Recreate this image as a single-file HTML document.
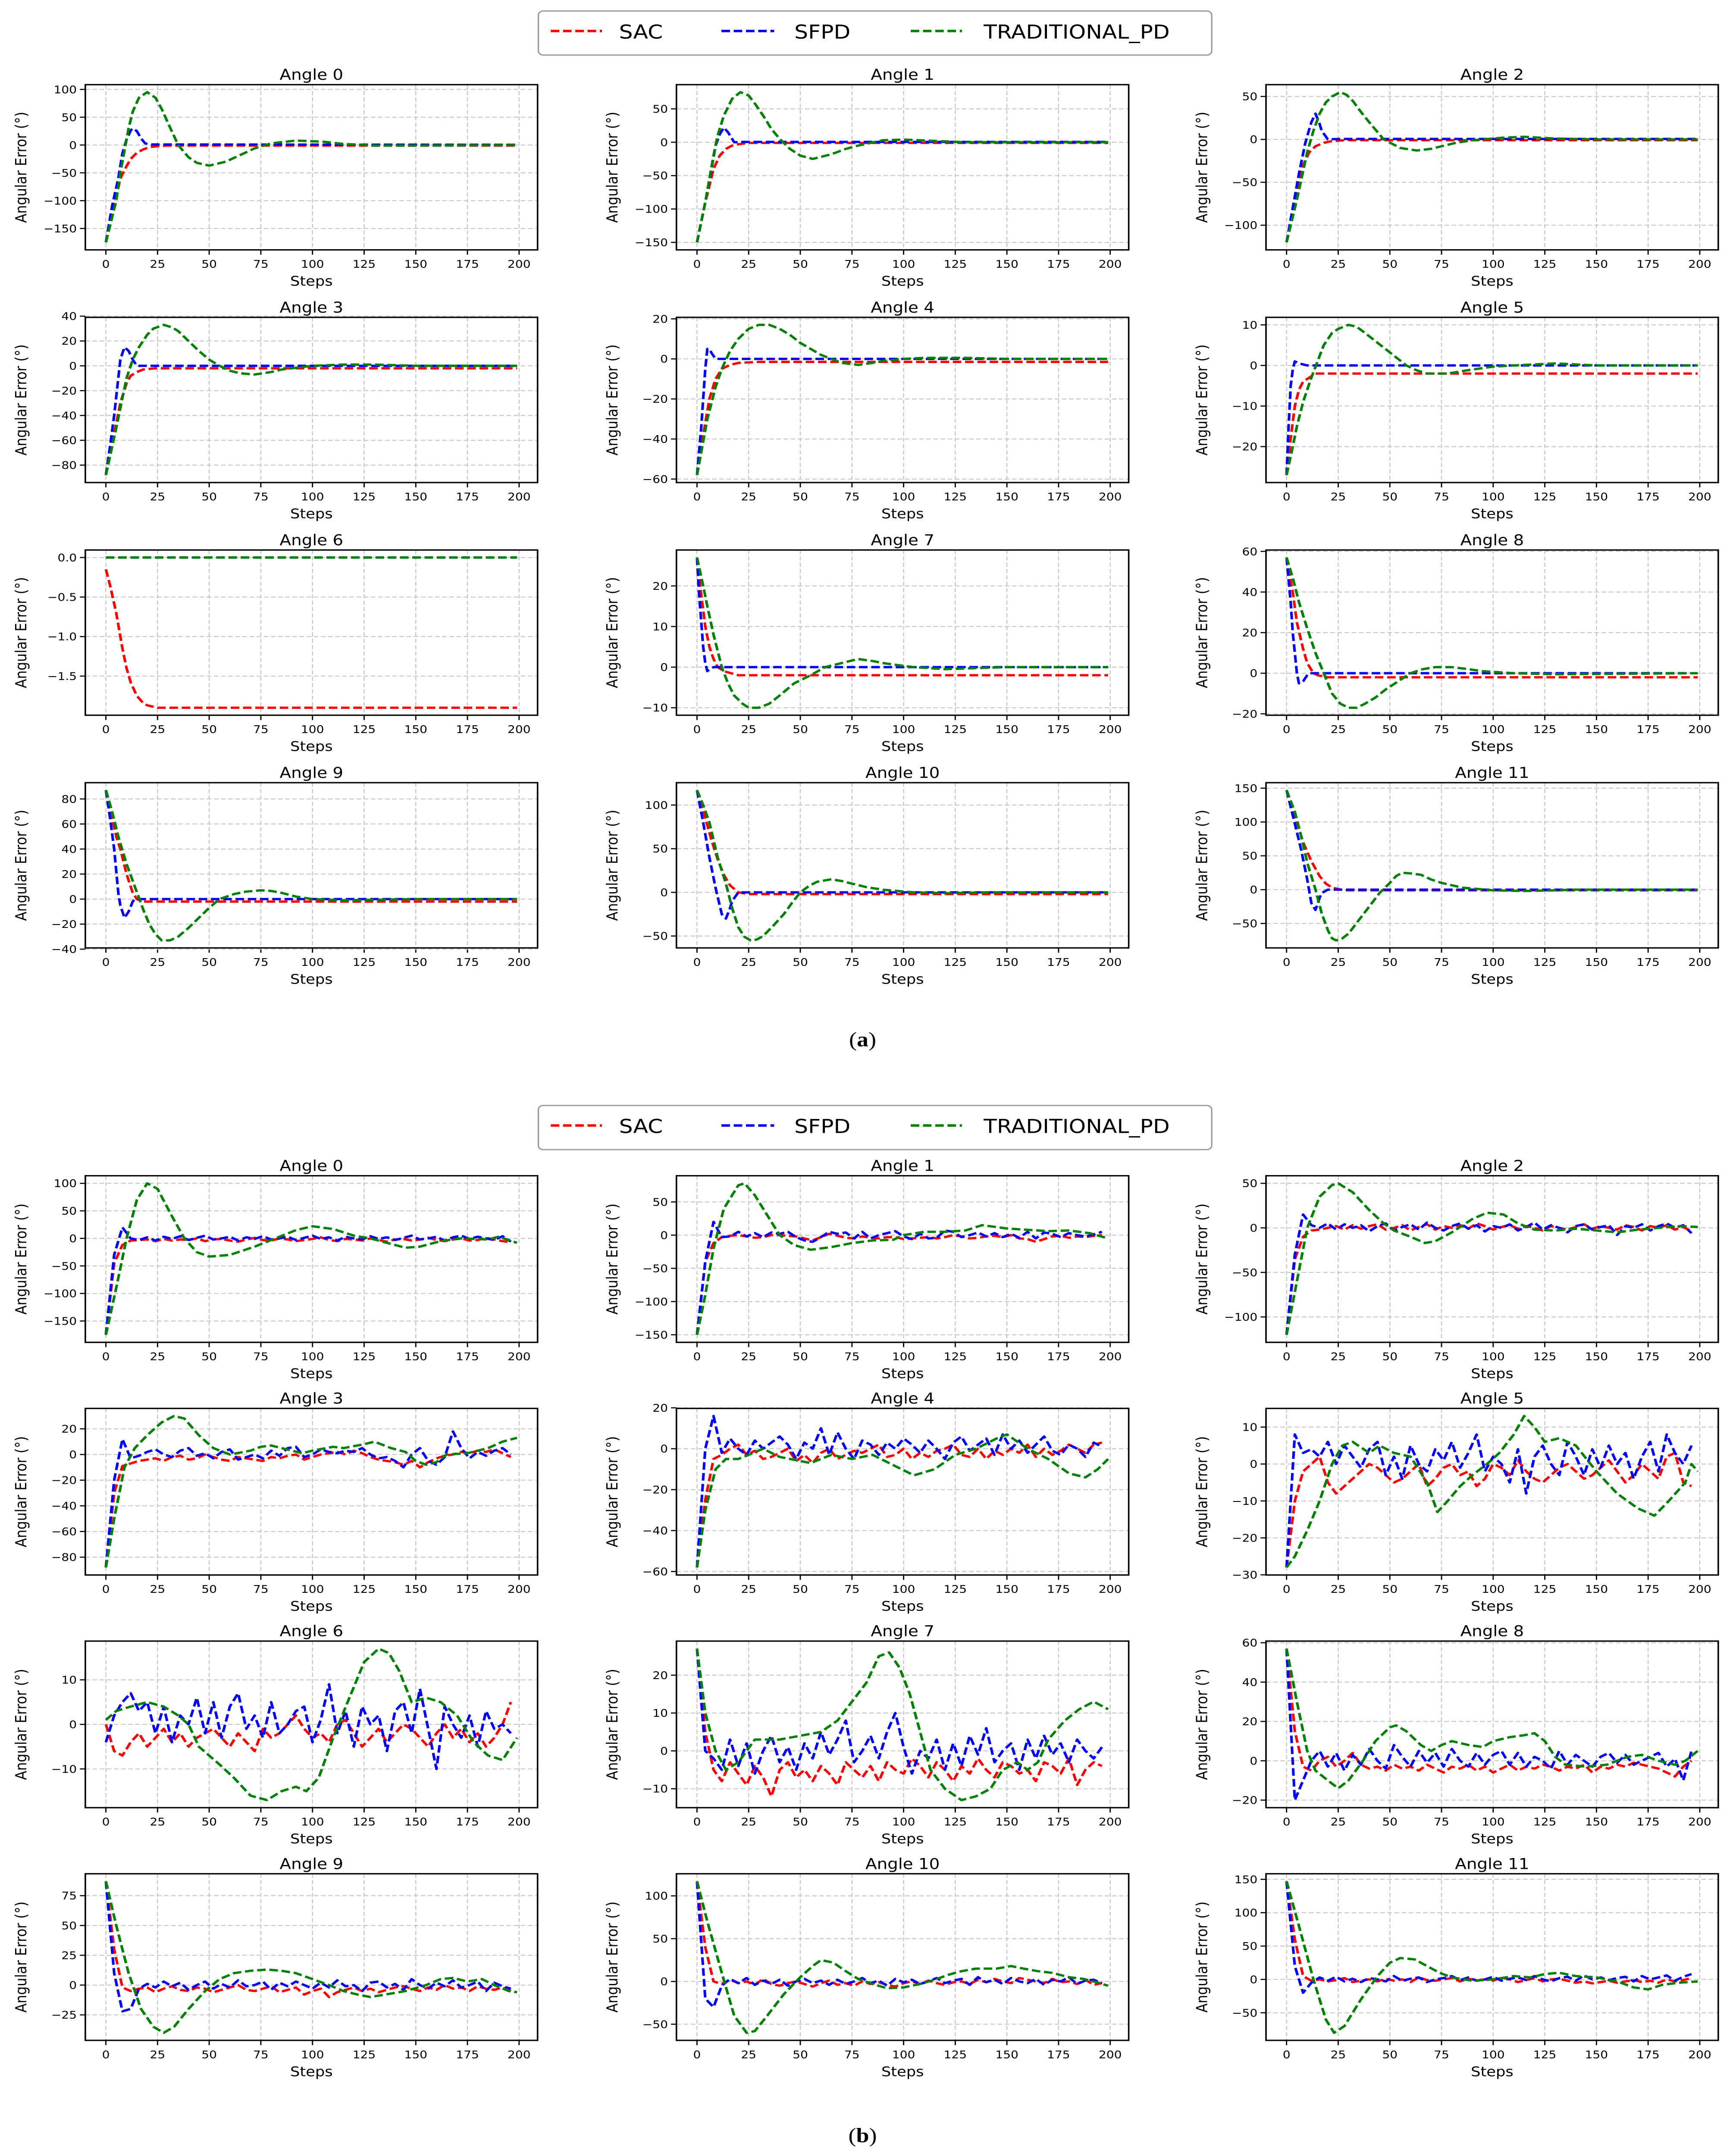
<!DOCTYPE html>
<html><head><meta charset="utf-8"><style>
html,body{margin:0;padding:0;background:#fff;width:100%;height:100%;overflow:hidden;}
svg{display:block;position:fixed;left:0;top:0;width:100vw;height:100vh;font-family:"DejaVu Sans","Liberation Sans",sans-serif;}
</style></head><body>
<svg id="fig" xmlns="http://www.w3.org/2000/svg" viewBox="0 0 1117 1566" preserveAspectRatio="none">
<rect x="0" y="0" width="1117" height="1566" fill="#fff"/>
<g>
<rect x="347" y="8" width="434" height="32" rx="3" fill="#fff" stroke="#999" stroke-width="0.9"/>
<line x1="355" y1="22.5" x2="388" y2="22.5" stroke="#ff0000" stroke-width="1.8" stroke-dasharray="5.5 2.4"/>
<text x="399" y="28" font-size="14">SAC</text>
<line x1="465" y1="22.5" x2="499" y2="22.5" stroke="#0000ff" stroke-width="1.8" stroke-dasharray="5.5 2.4"/>
<text x="512" y="28" font-size="14">SFPD</text>
<line x1="587" y1="22.5" x2="620" y2="22.5" stroke="#008000" stroke-width="1.8" stroke-dasharray="5.5 2.4"/>
<text x="634" y="28" font-size="14">TRADITIONAL_PD</text>
</g>
<g>
<rect x="347" y="803" width="434" height="32" rx="3" fill="#fff" stroke="#999" stroke-width="0.9"/>
<line x1="355" y1="817.5" x2="388" y2="817.5" stroke="#ff0000" stroke-width="1.8" stroke-dasharray="5.5 2.4"/>
<text x="399" y="823" font-size="14">SAC</text>
<line x1="465" y1="817.5" x2="499" y2="817.5" stroke="#0000ff" stroke-width="1.8" stroke-dasharray="5.5 2.4"/>
<text x="512" y="823" font-size="14">SFPD</text>
<line x1="587" y1="817.5" x2="620" y2="817.5" stroke="#008000" stroke-width="1.8" stroke-dasharray="5.5 2.4"/>
<text x="634" y="823" font-size="14">TRADITIONAL_PD</text>
</g>
<text x="556" y="760" font-size="15" text-anchor="middle" font-family="Liberation Serif, serif">(<tspan font-weight="bold">a</tspan>)</text>
<text x="556" y="1556" font-size="15" text-anchor="middle" font-family="Liberation Serif, serif">(<tspan font-weight="bold">b</tspan>)</text>
<g id="plots"></g>
</svg>
<script>
const X_TICKS=[0,25,50,75,100,125,150,175,200];
// ---- (a) smooth series: [step, value] pairs ----
const A0_SAC=[[0,-175],[4,-110],[7,-60],[10,-38],[12,-25],[15,-14],[18,-8],[21,-4],[25,-2],[30,-1],[199,-1]];
const A0_SFPD=[[0,-175],[3,-110],[6,-60],[8,-15],[10,10],[12,26],[13,30],[15,25],[17,12],[19,3],[22,1],[199,0.5]];
const A0_PD=[[0,-175],[3,-130],[5,-100],[7,-50],[9,-10],[11,30],[13,60],[16,85],[20,95],[24,85],[27,65],[30,40],[35,0],[40,-22],[44,-32],[50,-37],[58,-30],[65,-18],[72,-6],[80,3],[92,8],[105,6],[115,2],[130,-1],[150,-1],[199,0]];
const A1_SAC=[[0,-150],[4,-90],[8,-40],[11,-20],[14,-10],[17,-5],[20,-3],[25,-1],[199,-1]];
const A1_SFPD=[[0,-150],[4,-90],[7,-40],[9,-5],[11,12],[13,22],[15,15],[18,0],[22,0.5],[199,0.5]];
const A1_PD=[[0,-150],[4,-90],[8,-20],[10,10],[13,40],[17,65],[21,75],[25,70],[28,58],[32,40],[36,20],[40,5],[45,-10],[50,-20],[56,-25],[65,-18],[72,-10],[78,-5],[90,3],[100,4],[115,2],[130,0],[199,0]];
const A2_SAC=[[0,-120],[4,-70],[8,-30],[11,-15],[14,-8],[18,-4],[22,-2],[28,-1],[199,-1]];
const A2_SFPD=[[0,-120],[3,-80],[6,-40],[9,-5],[11,12],[12,20],[14,30],[16,18],[17,10],[20,0],[25,0.5],[199,0.5]];
const A2_PD=[[0,-120],[5,-70],[10,-15],[13,10],[16,30],[19,43],[22,50],[26,55],[29,52],[32,45],[36,32],[40,20],[47,0],[55,-10],[63,-13],[70,-11],[75,-8],[82,-4],[90,-1],[105,2],[115,3],[130,1],[150,0],[199,0]];
const A3_SAC=[[0,-88],[4,-55],[7,-30],[10,-14],[12,-8],[15,-5],[18,-3],[24,-2],[199,-2]];
const A3_SFPD=[[0,-88],[2,-65],[4,-40],[6,-10],[7,5],[9,15],[11,12],[13,5],[15,0],[199,0]];
const A3_PD=[[0,-88],[5,-50],[10,-10],[13,5],[16,15],[20,25],[23,30],[28,33],[32,31],[35,28],[40,20],[45,12],[50,5],[55,0],[60,-4],[65,-6],[72,-7],[80,-5],[85,-3],[100,0],[115,1],[130,1],[150,0],[199,0]];
const A4_SAC=[[0,-58],[3,-38],[6,-20],[9,-10],[12,-5],[16,-3],[20,-2],[30,-1.5],[199,-1.5]];
const A4_SFPD=[[0,-58],[2,-35],[3,-20],[4,-5],[5,5],[6,5],[7,3],[9,0],[199,0]];
const A4_PD=[[0,-58],[5,-30],[9,-14],[12,-5],[16,4],[20,10],[25,15],[30,17],[35,17],[40,15],[45,12],[50,8],[55,5],[60,2],[65,0],[70,-2],[78,-3],[85,-2],[90,-1],[100,0],[110,0.5],[130,0.5],[150,0],[199,0]];
const A5_SAC=[[0,-27],[2,-18],[4,-10],[6,-6],[8,-4],[11,-3],[14,-2],[199,-2]];
const A5_SFPD=[[0,-27],[1,-15],[2,-5],[3,-1],[4,1],[6,0.5],[10,0],[199,0]];
const A5_PD=[[0,-27],[3,-20],[5,-15],[8,-9],[12,-3],[15,1],[18,5],[22,8],[25,9],[30,10],[34,9.5],[38,8],[43,6],[48,4],[53,2],[58,0],[63,-1.2],[68,-2],[78,-2],[85,-1.4],[90,-1],[100,-0.3],[110,0],[130,0.5],[150,0],[199,0]];
const A6_SAC=[[0,-0.15],[2,-0.35],[5,-0.7],[8,-1.15],[10,-1.4],[12,-1.58],[15,-1.75],[18,-1.84],[20,-1.87],[25,-1.9],[199,-1.9]];
const A6_SFPD=[[0,0],[199,0]];
const A6_PD=[[0,0],[199,0]];
const A7_SAC=[[0,27],[2,18],[4,10],[6,5],[8,2],[10,0],[13,-1],[20,-2],[199,-2]];
const A7_SFPD=[[0,27],[1,18],[3,5],[4,1],[5,-1],[6,-0.5],[8,0],[199,0]];
const A7_PD=[[0,27],[3,20],[5,15],[8,8],[12,0],[15,-4],[18,-7],[22,-9],[25,-10],[30,-10],[35,-9],[40,-7],[47,-4],[55,-2],[62,0],[70,1],[78,2],[85,1.5],[90,1],[100,0.3],[105,0],[120,-0.5],[150,0],[199,0]];
const A8_SAC=[[0,57],[3,40],[5,25],[8,12],[10,5],[13,0],[15,-1],[20,-2],[199,-2]];
const A8_SFPD=[[0,57],[2,35],[3,20],[5,0],[6,-5],[8,-4],[10,-1],[11,0],[199,0]];
const A8_PD=[[0,57],[3,47],[6,35],[10,22],[14,10],[18,0],[22,-10],[26,-15],[30,-17],[34,-17],[38,-15],[43,-12],[48,-8],[54,-4],[60,0],[66,2],[72,3],[80,3],[88,2],[95,1],[110,0],[130,-0.5],[199,0]];
const A9_SAC=[[0,87],[3,65],[5,50],[7,40],[10,20],[13,5],[15,0],[18,-2],[199,-2]];
const A9_SFPD=[[0,87],[2,65],[4,40],[6,5],[7,-5],[9,-15],[11,-10],[13,-2],[14,0],[199,0]];
const A9_PD=[[0,87],[3,70],[6,50],[10,28],[14,10],[18,-8],[21,-20],[24,-28],[27,-33],[31,-33],[35,-30],[40,-23],[45,-15],[50,-7],[55,0],[62,4],[68,6],[75,7],[80,6.5],[85,5],[92,2],[100,0],[115,-1],[150,0],[199,0]];
const A10_SAC=[[0,117],[4,85],[7,60],[10,38],[13,20],[16,8],[20,0],[25,-2],[199,-2]];
const A10_SFPD=[[0,117],[3,80],[6,40],[9,5],[12,-25],[14,-30],[16,-18],[17,-10],[20,0],[199,0]];
const A10_PD=[[0,117],[3,100],[6,80],[10,40],[14,10],[17,-18],[20,-40],[23,-51],[26,-55],[29,-54],[32,-50],[37,-38],[42,-25],[46,-12],[50,0],[54,7],[58,12],[65,15],[70,13],[75,10],[82,6],[90,3],[105,0],[120,-1],[140,0],[199,0]];
const A11_SAC=[[0,147],[4,110],[8,70],[12,42],[16,20],[19,9],[22,3],[28,-1],[199,-1]];
const A11_SFPD=[[0,147],[3,110],[7,60],[10,15],[12,-20],[14,-30],[16,-12],[17,-5],[20,0],[199,0]];
const A11_PD=[[0,147],[4,115],[7,80],[10,40],[14,0],[17,-35],[20,-60],[22,-72],[24,-75],[27,-72],[30,-65],[35,-45],[40,-25],[45,-5],[50,10],[53,20],[56,25],[60,24],[65,22],[70,15],[75,10],[85,3],[100,-1],[115,-2],[130,-1],[140,0],[199,0]];
// ---- (b) noisy series: SAC / SFPD values every 4 steps; PD as [step,value] pairs ----
const B0_SAC=[-175,-45,-12,-4,-3,-2,-5,-1,-4,-2,-3,0,-5,-2,-1,-4,-6,-2,1,-3,-4,0,-2,-5,-3,-1,2,-3,-5,-1,-2,-4,0,-3,-6,-2,-1,-4,-2,1,-3,-5,-2,0,-4,-3,1,-2,-5,-7];
const B0_SFPD=[-175,-30,20,0,-3,2,-4,3,-1,4,-3,1,5,-2,0,3,-4,2,-1,4,-2,0,3,-3,1,5,-1,2,-4,3,0,-2,4,-1,2,-3,1,5,-2,0,3,-4,2,5,-1,3,0,-3,4,-6];
const B0_PD=[[0,-175],[5,-90],[10,0],[15,70],[20,100],[25,90],[32,40],[38,0],[44,-25],[50,-33],[60,-30],[72,-15],[82,0],[92,15],[100,22],[110,17],[120,5],[128,0],[138,-10],[145,-17],[152,-15],[162,-5],[172,0],[185,-2],[190,3],[199,-8]];
const B1_SAC=[-150,-40,-12,-3,-1,0,-2,-4,-3,0,0,-1,-2,-5,-8,-3,2,-1,-4,-5,-2,-4,-5,-3,-3,-6,-5,-4,-3,-5,-3,0,-2,-5,-4,-2,-1,-3,0,-5,-6,-10,-6,-2,-1,-4,-2,-3,-1,0];
const B1_SFPD=[-150,-40,20,-3,-2,5,-2,3,-3,4,2,5,-3,-8,-10,-3,5,2,4,-5,5,-5,0,3,6,-2,-6,2,-5,-4,7,5,-3,0,4,-2,3,-3,2,-4,5,-5,4,2,-3,3,0,-2,1,5];
const B1_PD=[[0,-150],[4,-90],[8,-20],[13,40],[20,75],[23,78],[28,60],[35,25],[40,0],[47,-15],[55,-22],[65,-18],[75,-12],[85,-8],[95,-7],[100,0],[110,5],[120,5],[130,7],[138,15],[150,10],[160,8],[170,6],[180,7],[190,3],[199,-5]];
const B2_SAC=[-120,-35,-10,-3,-2,0,2,-2,3,-1,2,4,-2,0,3,-3,1,4,-2,2,0,3,-1,5,2,-2,1,3,-1,2,0,-3,2,0,-2,1,4,-1,2,0,-2,3,1,-3,2,0,3,-2,1,-4];
const B2_SFPD=[-120,-30,15,3,0,5,-2,4,0,3,-4,2,5,-3,1,4,-2,6,0,-3,2,5,-1,3,-4,2,0,4,-3,1,6,-2,3,0,-5,2,4,-2,1,3,-8,2,0,4,-3,2,5,0,3,-6];
const B2_PD=[[0,-120],[5,-60],[10,0],[16,35],[22,48],[25,50],[32,40],[40,20],[47,5],[52,-3],[60,-10],[67,-17],[72,-15],[80,-5],[90,10],[97,17],[105,15],[112,5],[120,-2],[130,-3],[140,-1],[150,-3],[160,-5],[170,-2],[180,0],[190,2],[199,1]];
const B3_SAC=[-88,-30,-9,-7,-5,-4,-3,-5,-2,-1,-4,-3,0,-2,-4,-5,-2,-3,-4,-5,-2,-3,-1,0,-4,-2,0,1,2,0,3,1,-2,-4,-5,-6,-8,-5,-10,-6,-3,-1,0,2,1,3,2,4,1,-2];
const B3_SFPD=[-88,-20,12,-3,-1,2,4,0,-2,3,5,-1,1,-3,2,4,-4,-2,0,-3,3,-1,5,6,-2,0,4,2,1,3,2,5,0,-3,-2,-5,-10,0,5,-5,-8,-2,18,5,-3,2,-1,3,5,0];
const B3_PD=[[0,-88],[4,-50],[9,-10],[14,5],[20,15],[27,25],[33,30],[38,28],[45,15],[52,5],[60,0],[70,3],[75,6],[80,7],[90,3],[95,1],[100,3],[110,6],[115,5],[125,8],[130,10],[138,5],[145,2],[150,-5],[155,-8],[160,-6],[165,0],[175,1],[185,5],[192,10],[199,13]];
const B4_SAC=[-58,-25,-5,-3,0,2,-3,-1,-5,-4,-2,0,-6,-3,-7,-2,0,-5,-3,-1,-2,0,2,-4,-3,0,-5,-2,-4,-1,0,2,-3,-4,0,-5,-1,-3,0,-2,2,-4,0,-3,-1,2,0,-2,2,3];
const B4_SFPD=[-58,0,16,-2,5,0,-3,4,0,3,6,2,-5,3,0,10,-3,8,0,-5,4,2,-3,3,0,5,2,-2,4,0,-5,3,6,-1,2,5,-3,7,0,4,-2,2,6,-1,-3,2,0,-4,3,1];
const B4_PD=[[0,-58],[4,-30],[9,-10],[14,-5],[20,-5],[25,-3],[32,0],[40,-4],[45,-5],[55,-7],[65,-3],[75,-5],[85,-3],[95,-8],[105,-13],[115,-10],[125,-3],[135,0],[145,5],[150,7],[160,0],[170,-5],[180,-12],[188,-14],[194,-10],[199,-5]];
const B5_SAC=[-28,-10,-2,0,2,-5,-8,-6,-4,-2,0,-1,-3,-5,-4,-2,0,-6,-4,-1,0,-3,-2,-6,-4,0,-1,-3,1,-2,-4,-5,-3,-1,0,-2,-4,-3,-1,1,-2,-5,-3,0,-2,-4,2,3,-5,-6];
const B5_SFPD=[-28,8,3,4,2,6,0,5,2,-1,4,6,-3,2,-4,5,0,-2,4,1,6,-1,3,8,-2,2,0,-5,4,-8,2,5,0,-3,6,2,-3,4,-1,5,0,3,-4,2,6,-2,8,3,0,5];
const B5_PD=[[0,-28],[4,-25],[10,-18],[16,-10],[22,0],[27,5],[32,6],[40,3],[45,5],[52,3],[60,2],[68,-5],[73,-13],[78,-10],[84,-6],[90,-3],[97,0],[103,3],[110,8],[115,13],[120,10],[125,6],[132,7],[140,5],[150,-2],[160,-8],[170,-12],[178,-14],[185,-10],[193,-5],[196,0],[199,-2]];
const B6_SAC=[0,-6,-7,-4,-2,-5,-3,-1,-4,-2,-5,-3,-2,-1,-3,-5,-2,-4,-6,-1,-3,-2,0,2,-1,-3,-2,-4,0,1,-2,-5,-3,-1,-4,-2,0,-1,-3,-5,-2,0,-3,-1,-4,-2,-5,-3,0,5];
const B6_SFPD=[-4,2,5,7,3,5,-2,4,-4,2,0,6,-2,5,-3,4,7,-1,2,-3,5,-2,0,3,4,-4,1,9,-2,3,-5,4,0,2,-6,3,5,-2,8,-1,-10,4,0,-3,2,-5,3,-1,0,-2];
const B6_PD=[[0,1],[5,3],[12,4],[20,5],[28,4],[35,2],[40,0],[45,-5],[55,-9],[62,-12],[70,-16],[78,-17],[85,-15],[92,-14],[97,-15],[103,-12],[110,-3],[117,5],[125,14],[132,17],[137,16],[142,12],[148,5],[155,6],[162,5],[170,2],[178,-4],[185,-7],[192,-8],[199,-3]];
const B7_SAC=[27,5,-5,-8,-3,-6,-9,-4,-7,-12,-5,-3,-7,-5,-8,-4,-6,-9,-3,-5,-7,-4,-8,-3,-5,-6,-2,-4,-7,-3,-5,-8,-4,-6,-2,-5,-7,-3,-4,-6,-5,-8,-3,-4,-6,-2,-9,-5,-3,-4];
const B7_SFPD=[27,0,-2,-5,3,-4,2,-6,0,4,-3,1,-5,2,-2,5,-1,3,8,-3,0,4,-2,5,10,1,-6,0,-2,3,-5,2,-4,4,-1,6,-3,0,2,-5,3,-2,4,-1,2,-3,3,0,-2,1];
const B7_PD=[[0,27],[4,10],[9,0],[14,-5],[20,-3],[28,3],[40,3],[50,4],[60,5],[68,8],[75,13],[82,18],[88,25],[93,26],[98,22],[103,15],[108,5],[113,-5],[120,-10],[128,-13],[135,-12],[142,-10],[148,-5],[155,-3],[160,-5],[165,-3],[170,3],[178,8],[185,11],[192,13],[199,11]];
const B8_SAC=[57,15,-3,-5,0,2,-3,0,4,-2,-4,-3,-5,-2,-4,-3,-5,-2,-4,-6,-3,-4,-2,-5,-3,-6,-4,-2,-5,-3,-4,-2,-3,-5,-3,-4,-2,-6,-3,-4,-2,-3,-1,-2,-3,-4,-6,-8,-3,0];
const B8_SFPD=[57,-20,-10,0,5,-3,4,-5,3,-2,6,0,-4,8,2,-3,5,-1,4,-3,6,0,-3,4,-2,3,5,-2,4,-3,2,0,-4,5,-2,3,0,-3,2,4,-1,3,-2,0,2,4,-3,1,-10,5];
const B8_PD=[[0,57],[5,30],[10,5],[14,-5],[20,-10],[25,-14],[30,-10],[37,0],[43,10],[50,17],[53,18],[58,15],[65,8],[70,5],[75,8],[80,10],[88,8],[95,7],[100,10],[108,12],[115,13],[120,14],[125,10],[130,2],[135,-2],[145,-3],[155,-2],[160,0],[165,2],[172,3],[180,0],[188,-2],[193,0],[199,5]];
const B9_SAC=[87,30,-2,-5,-3,-2,-6,-3,-1,-4,-5,-2,-3,-6,-4,-2,0,-4,-5,-3,-1,-6,-4,-2,-8,-5,-3,-10,-6,-4,-2,-5,-3,-6,-4,-2,-1,-3,-5,-2,-4,0,-3,-2,-5,-1,-3,-4,-2,-5];
const B9_SFPD=[87,10,-22,-20,-3,1,-2,3,-1,2,-4,0,3,-3,1,-2,4,-1,0,3,-4,2,-1,3,0,-3,2,-2,4,-1,0,-5,2,3,-2,1,-4,5,0,-3,2,-1,4,-2,0,3,-5,2,-1,-3];
const B9_PD=[[0,87],[5,50],[11,10],[17,-20],[23,-35],[28,-40],[33,-35],[40,-20],[48,-5],[55,5],[62,10],[70,12],[78,13],[85,12],[92,10],[100,5],[108,0],[115,-5],[122,-8],[128,-10],[135,-8],[145,-5],[155,0],[162,5],[168,6],[175,3],[182,5],[188,0],[195,-5],[199,-6]];
const B10_SAC=[117,40,0,-3,2,-2,0,-4,3,-3,-5,-2,0,-3,-6,-2,1,-4,-2,-5,0,-3,-1,-4,-6,-2,0,-3,1,-2,-4,-1,0,-3,2,-1,3,0,-2,4,2,0,-2,3,-1,0,-3,2,-4,-2];
const B10_SFPD=[117,-20,-30,-5,3,-2,4,-4,1,-3,2,-5,0,3,-2,1,-4,2,-3,0,4,-2,1,-5,3,-1,2,-3,0,4,-2,1,3,-4,5,-1,2,-3,4,0,-2,3,-4,2,0,5,-3,1,2,-2];
const B10_PD=[[0,117],[5,70],[12,10],[18,-40],[24,-60],[28,-58],[34,-40],[42,-15],[50,5],[56,18],[60,25],[66,22],[72,12],[78,3],[85,-3],[92,-8],[100,-7],[108,-3],[115,2],[122,8],[128,12],[135,15],[145,15],[152,18],[158,15],[165,12],[172,10],[180,5],[187,3],[192,0],[199,-5]];
const B11_SAC=[147,60,5,-2,0,-3,-1,2,-4,-2,0,-3,1,-2,0,-4,3,-1,-2,0,2,-3,1,-1,0,-2,3,0,-4,-1,2,-3,0,1,-2,-5,-3,-6,-4,-2,-5,-3,-1,-4,-2,-5,0,-3,-1,2];
const B11_SFPD=[147,20,-20,-5,3,-2,4,-3,1,-4,2,0,-3,5,-2,1,3,-4,0,2,5,-1,3,-2,0,4,-2,1,3,-1,5,0,-3,2,4,-2,6,0,3,-1,2,4,-3,5,0,3,6,-2,4,8];
const B11_PD=[[0,147],[6,80],[13,0],[19,-60],[23,-80],[28,-70],[36,-30],[44,5],[50,25],[55,32],[62,30],[68,20],[74,10],[80,3],[90,-2],[100,0],[110,5],[118,3],[125,8],[132,10],[140,5],[150,3],[160,-3],[168,-12],[175,-15],[182,-8],[190,-5],[199,-3]];
// ---- y tick labels per panel ----
const A_YTICKS=[[100,50,0,-50,-100,-150],[50,0,-50,-100,-150],[50,0,-50,-100],[40,20,0,-20,-40,-60,-80],[20,0,-20,-40,-60],[10,0,-10,-20],[0,-0.5,-1,-1.5],[20,10,0,-10],[60,40,20,0,-20],[80,60,40,20,0,-20,-40],[100,50,0,-50],[150,100,50,0,-50]];
const B_YTICKS=[[100,50,0,-50,-100,-150],[50,0,-50,-100,-150],[50,0,-50,-100],[20,0,-20,-40,-60,-80],[20,0,-20,-40,-60],[10,0,-10,-20,-30],[10,0,-10],[20,10,0,-10],[60,40,20,0,-20],[75,50,25,0,-25],[100,50,0,-50],[150,100,50,0,-50]];

const A_SERIES=[[A0_SAC,A0_SFPD,A0_PD],[A1_SAC,A1_SFPD,A1_PD],[A2_SAC,A2_SFPD,A2_PD],[A3_SAC,A3_SFPD,A3_PD],[A4_SAC,A4_SFPD,A4_PD],[A5_SAC,A5_SFPD,A5_PD],[A6_SAC,A6_SFPD,A6_PD],[A7_SAC,A7_SFPD,A7_PD],[A8_SAC,A8_SFPD,A8_PD],[A9_SAC,A9_SFPD,A9_PD],[A10_SAC,A10_SFPD,A10_PD],[A11_SAC,A11_SFPD,A11_PD]];
const B_SERIES=[[B0_SAC,B0_SFPD,B0_PD],[B1_SAC,B1_SFPD,B1_PD],[B2_SAC,B2_SFPD,B2_PD],[B3_SAC,B3_SFPD,B3_PD],[B4_SAC,B4_SFPD,B4_PD],[B5_SAC,B5_SFPD,B5_PD],[B6_SAC,B6_SFPD,B6_PD],[B7_SAC,B7_SFPD,B7_PD],[B8_SAC,B8_SFPD,B8_PD],[B9_SAC,B9_SFPD,B9_PD],[B10_SAC,B10_SFPD,B10_PD],[B11_SAC,B11_SFPD,B11_PD]];

const NS='http://www.w3.org/2000/svg';
const root=document.getElementById('plots');
const COLORS=['#ff0000','#0000ff','#008000'];
const SNAMES=['sac','sfpd','traditional-pd'];
const COL_X=[55,436,816], AW=291.5;
function mk(tag,attrs,parent){const e=document.createElementNS(NS,tag);for(const k in attrs)e.setAttribute(k,attrs[k]);parent.appendChild(e);return e;}
function toPairs(s){return (typeof s[0]==='number')?s.map((v,i)=>[i*4,v]):s;}
function fmt(v,dec){const s=dec?Math.abs(v).toFixed(1):String(Math.abs(v));return (v<0?'\u2212':'')+s;}
let clipId=0;
function panel(part,idx,series,yticks,top,AH){
  const left=COL_X[idx%3];
  const g=mk('g',{},root);
  
  
  const pairs=series.map(toPairs);
  let mn=Infinity,mx=-Infinity;
  pairs.forEach(p=>p.forEach(q=>{mn=Math.min(mn,q[1]);mx=Math.max(mx,q[1]);}));
  const pad=(mx-mn)*0.05;const y0=mn-pad,y1=mx+pad;
  const x0=-9.95,x1=208.95;
  const sx=v=>left+(v-x0)/(x1-x0)*AW;
  const sy=v=>top+(y1-v)/(y1-y0)*AH;
  const dec=yticks.some(t=>t%1!==0);
  X_TICKS.forEach(t=>{
    const l=mk('line',{x1:sx(t),x2:sx(t),y1:top,y2:top+AH,stroke:'#c8c8c8','stroke-width':0.7,'stroke-dasharray':'3 1.6'},g);
    
    
    const tk=mk('line',{x1:sx(t),x2:sx(t),y1:top+AH,y2:top+AH+3.5,stroke:'#000','stroke-width':0.8},g);
    
    
    const tx=mk('text',{x:sx(t),y:top+AH+13,'font-size':7.8,'text-anchor':'middle'},g);
    tx.textContent=t;
    
    
  });
  yticks.forEach(t=>{
    const l=mk('line',{x1:left,x2:left+AW,y1:sy(t),y2:sy(t),stroke:'#c8c8c8','stroke-width':0.7,'stroke-dasharray':'3 1.6'},g);
    
    
    const tk=mk('line',{x1:left-3.5,x2:left,y1:sy(t),y2:sy(t),stroke:'#000','stroke-width':0.8},g);
    
    
    const tx=mk('text',{x:left-5.5,y:sy(t)+2.8,'font-size':7.8,'text-anchor':'end'},g);
    tx.textContent=fmt(t,dec);
    
    
  });
  const cid='c'+(clipId++);
  const cp=mk('clipPath',{id:cid},g);
  mk('rect',{x:left,y:top,width:AW,height:AH},cp);
  pairs.forEach((p,si)=>{
    const pts=p.map(q=>sx(q[0]).toFixed(2)+','+sy(q[1]).toFixed(2)).join(' ');
    const pl=mk('polyline',{points:pts,fill:'none',stroke:COLORS[si],'stroke-width':1.7,'stroke-dasharray':'5.5 2.4','clip-path':'url(#'+cid+')','stroke-linejoin':'round'},g);
    
    
  });
  const fr=mk('rect',{x:left,y:top,width:AW,height:AH,fill:'none',stroke:'#000','stroke-width':1},g);
  
  
  const ti=mk('text',{x:left+AW/2,y:top-3.5,'font-size':10.8,'text-anchor':'middle'},g);
  ti.textContent='Angle '+idx;
  
  
  const xl=mk('text',{x:left+AW/2,y:top+AH+26,'font-size':9.8,'text-anchor':'middle'},g);
  xl.textContent='Steps';
  
  
  const lx=left-38;
  const yl=mk('text',{x:lx,y:top+AH/2,'font-size':9.8,'text-anchor':'middle',transform:'rotate(-90 '+lx+' '+(top+AH/2)+')'},g);
  yl.textContent='Angular Error (\u00b0)';
  
  
}
const A_TOPS=[61.5,230.5,399.5,568.5], B_TOPS=[854,1023,1192,1361];
for(let i=0;i<12;i++){
  panel('a',i,A_SERIES[i],A_YTICKS[i],A_TOPS[Math.floor(i/3)],120);
  panel('b',i,B_SERIES[i],B_YTICKS[i],B_TOPS[Math.floor(i/3)],121);
}
</script>
</body></html>
